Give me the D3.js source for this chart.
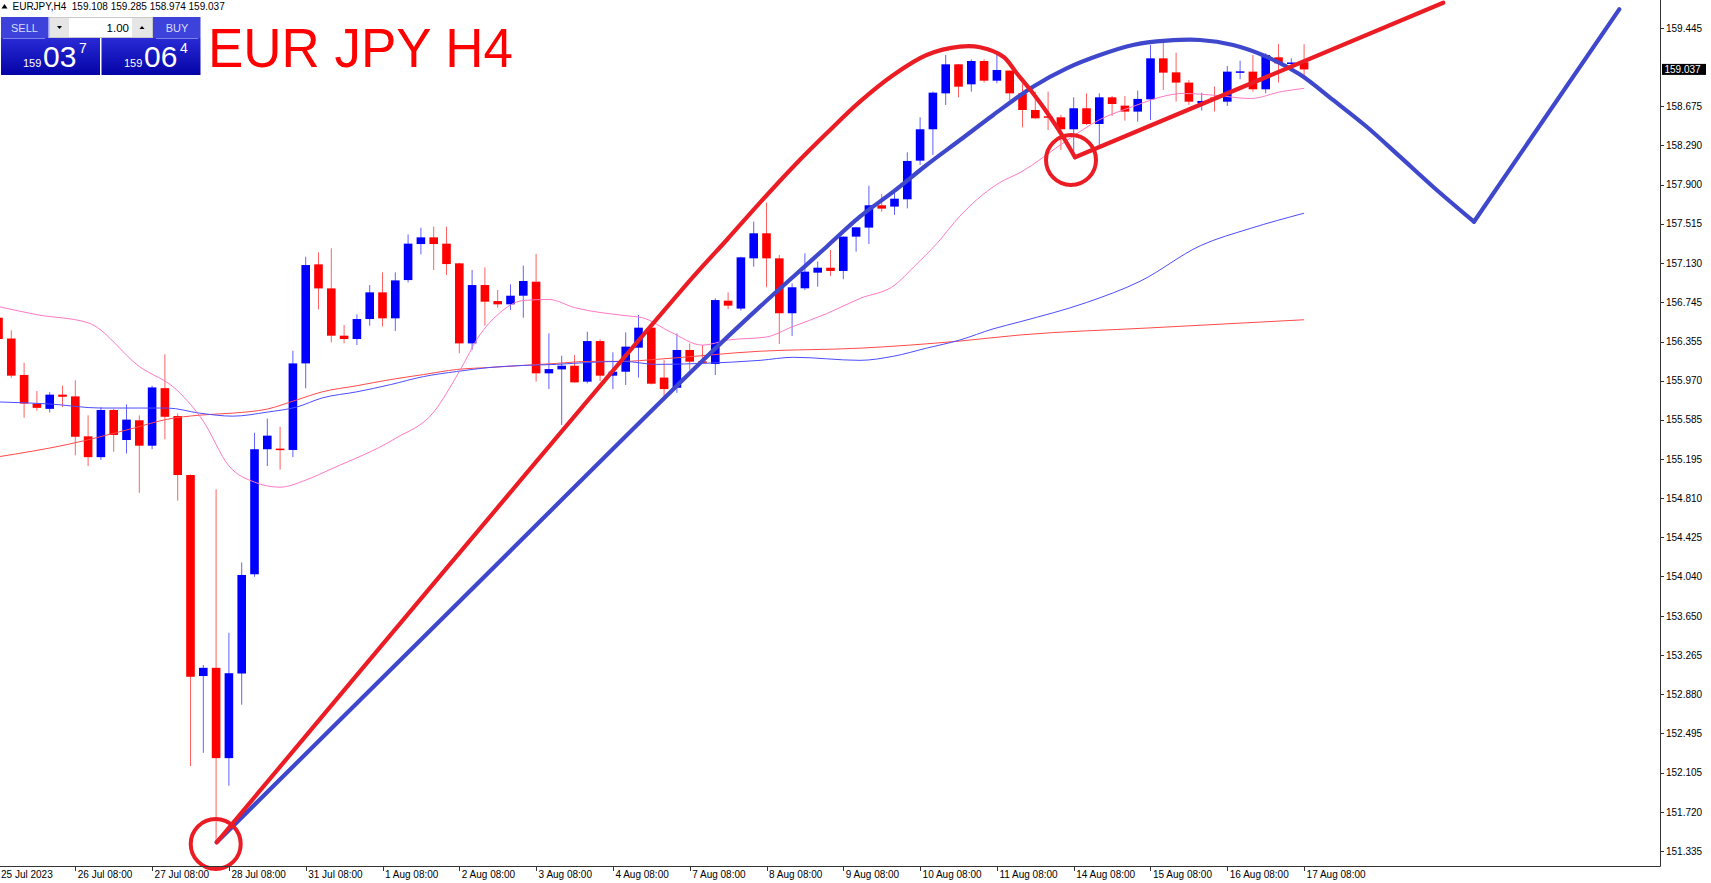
<!DOCTYPE html>
<html><head><meta charset="utf-8">
<script src="https://cdn.jsdelivr.net/npm/d3@7"></script>
<style>html,body{margin:0;padding:0;background:#fff;overflow:hidden}svg{display:block}</style>
</head><body>
<svg id="chart" width="1711" height="883"></svg>
<script>
// ---------- DATA (EURJPY H4, bars 25 Jul 2023 08:00 .. 17 Aug 2023 08:00) ----------
const openP = [156.590,156.385,156.026,155.744,155.692,155.832,155.815,155.421,155.216,155.681,
155.385,155.579,155.329,155.896,155.621,155.040,153.059,153.140,152.250,153.084,
154.062,155.294,155.300,155.287,156.140,157.116,156.879,156.413,156.380,156.577,
156.840,156.584,156.961,157.316,157.382,157.320,157.126,156.337,156.912,156.754,
156.722,156.807,156.945,156.042,156.081,156.117,155.960,156.360,156.019,156.058,
156.295,156.492,156.000,155.900,156.272,156.160,156.134,156.758,156.680,157.175,
157.422,157.175,156.634,156.880,157.034,157.083,157.051,157.389,157.478,157.698,
157.685,157.757,158.138,158.447,158.801,159.087,158.890,159.120,158.926,159.025,
158.801,158.637,158.575,158.565,158.447,158.654,158.499,158.762,158.680,158.621,
158.742,159.146,159.008,158.907,158.703,158.760,158.719,159.010,159.015,158.841,
159.156,159.100,159.108];
const highP = [156.620,156.466,156.146,155.868,155.857,155.920,155.973,155.628,155.709,155.692,
155.737,155.628,155.920,156.230,155.646,155.045,153.168,154.900,153.485,154.178,
155.456,155.597,155.516,156.265,157.191,157.234,157.274,156.518,156.623,156.912,
157.037,157.037,157.411,157.477,157.487,157.487,157.130,157.060,157.086,156.863,
156.919,157.103,157.218,156.436,156.216,156.222,156.452,156.377,156.249,156.446,
156.617,156.500,156.173,156.436,156.337,156.321,156.781,156.840,157.190,157.537,
157.724,157.208,156.929,157.225,157.143,157.258,157.390,157.485,157.891,157.809,
157.832,158.220,158.565,158.818,159.179,159.090,159.136,159.136,159.202,159.030,
158.900,158.818,158.818,158.588,158.762,158.801,158.801,158.775,158.775,158.828,
159.278,159.311,159.202,158.933,158.808,158.867,159.071,159.123,159.179,159.196,
159.288,159.146,159.285];
const lowP = [156.360,155.998,155.604,155.674,155.656,155.709,155.234,155.128,155.188,155.269,
155.252,154.865,155.294,155.392,154.787,152.172,152.302,151.416,151.978,152.777,
154.037,155.128,155.093,155.216,155.894,156.672,156.347,156.337,156.321,156.511,
156.502,156.459,156.938,157.214,157.060,157.011,156.239,156.272,156.511,156.689,
156.666,156.590,155.960,155.887,155.533,155.950,155.943,155.966,155.887,155.927,
156.000,155.933,155.812,155.850,156.075,156.134,156.026,156.673,156.660,157.093,
156.890,156.331,156.410,156.863,156.896,157.001,156.969,157.241,157.317,157.635,
157.603,157.668,158.095,158.194,158.686,158.762,158.818,158.907,158.900,158.736,
158.466,158.550,158.440,158.243,158.194,158.489,158.292,158.578,158.532,158.522,
158.539,158.834,158.719,158.687,158.631,158.621,158.677,158.939,158.818,158.801,
158.907,159.064,158.974];
const closeP = [156.380,156.019,155.744,155.702,155.832,155.811,155.417,155.216,155.681,155.435,
155.586,155.329,155.903,155.614,155.040,153.052,153.140,152.250,153.087,154.055,
155.294,155.428,155.290,156.140,157.109,156.879,156.413,156.380,156.577,156.840,
156.584,156.958,157.320,157.382,157.316,157.119,156.337,156.912,156.748,156.722,
156.807,156.952,156.042,156.084,156.117,155.953,156.360,156.019,156.058,156.305,
156.492,155.940,155.887,156.272,156.157,156.150,156.764,156.709,157.185,157.422,
157.175,156.634,156.890,157.044,157.083,157.051,157.389,157.481,157.698,157.665,
157.763,158.135,158.447,158.808,159.087,158.867,159.120,158.926,159.031,158.801,
158.637,158.555,158.565,158.447,158.654,158.499,158.762,158.696,158.621,158.746,
159.146,159.005,158.907,158.719,158.726,158.750,159.015,159.018,158.841,159.179,
159.097,159.105,159.037];

const xLabels   = ["25 Jul 2023","26 Jul 08:00","27 Jul 08:00","28 Jul 08:00","31 Jul 08:00","1 Aug 08:00",
                   "2 Aug 08:00","3 Aug 08:00","4 Aug 08:00","7 Aug 08:00","8 Aug 08:00","9 Aug 08:00",
                   "10 Aug 08:00","11 Aug 08:00","14 Aug 08:00","15 Aug 08:00","16 Aug 08:00","17 Aug 08:00"];
const xLabelBar = [0,6,12,18,24,30,36,42,48,54,60,66,72,78,84,90,96,102];
const yTicks = [159.445,158.675,158.290,157.900,157.515,157.130,156.745,156.355,155.970,155.585,
                155.195,154.810,154.425,154.040,153.650,153.265,152.880,152.495,152.105,151.720,151.335];

// moving averages read at sample bars: [bar, price]
const maPink = [[0,156.70],[3,156.62],[7,156.54],[11,156.11],[14,155.87],[16,155.57],[18,155.13],[20,154.97],
  [22,154.92],[24,154.99],[26,155.10],[31,155.40],[34,155.66],[36,156.06],[37.6,156.42],[39,156.62],[41,156.76],
  [43,156.77],[45,156.69],[49,156.61],[50.3,156.59],[52.5,156.45],[55,156.32],[57,156.37],[60,156.40],[62,156.50],
  [64.7,156.63],[67.3,156.78],[70,156.91],[71.5,157.09],[73.3,157.32],[75.1,157.59],[76.4,157.75],[78.2,157.92],
  [79.8,158.02],[83.5,158.34],[86,158.54],[88.6,158.67],[91.3,158.78],[92.5,158.80],[95.2,158.78],[97.8,158.75],
  [100.3,158.82],[102,158.85]];
const maBlue = [[0,155.76],[4,155.74],[8,155.70],[13.2,155.70],[15.7,155.65],[18.3,155.62],[21,155.66],[23.3,155.71],
  [25.3,155.80],[28,155.86],[30.6,155.93],[33.2,156.01],[35.8,156.06],[38.4,156.10],[41,156.12],[43.6,156.13],
  [46.2,156.15],[48.8,156.16],[51.4,156.13],[55,156.14],[59.5,156.17],[62.1,156.20],[67.3,156.17],[69.9,156.21],
  [72.5,156.29],[75.1,156.37],[77.7,156.48],[79.8,156.55],[85,156.74],[89.2,156.95],[93.9,157.30],[97.8,157.47],
  [102,157.62]];
const maRed = [[0,155.22],[5.35,155.34],[10.5,155.50],[13.2,155.59],[15.7,155.63],[18.3,155.65],[21,155.69],
  [23.3,155.78],[25.3,155.86],[28,155.92],[30.6,155.98],[33.2,156.03],[35.8,156.08],[38.4,156.10],[41,156.12],
  [43.6,156.14],[46.2,156.16],[48.8,156.16],[51.4,156.18],[59.5,156.26],[67.3,156.29],[75.1,156.36],[79.8,156.42],
  [90,156.49],[102,156.57]];

// hand-drawn annotations: [bar, price]
const arcRed  = [[17.05,151.421],[35.27,154.161],[54.28,156.994],[56.89,157.356],[59.49,157.724],[62.09,158.078],
  [64.70,158.407],[67.30,158.719],[69.91,158.982],[72.51,159.179],[75.12,159.261],[76.68,159.255],[78.50,159.162],
  [79.55,158.999],[80.82,158.802],[82.15,158.571],[83.16,158.374],[84.10,158.171]];
const lineRed = [[84.10,158.171],[112.87,159.694]];
const arcBlue = [[17.05,151.421],[36.05,153.799],[55.06,156.173],[59.49,156.699],[62.09,156.994],[64.70,157.290],
  [67.30,157.586],[69.91,157.832],[72.51,158.095],[75.12,158.341],[77.72,158.588],[80.82,158.867],[83.45,159.048],
  [86.05,159.179],[88.63,159.278],[91.27,159.320],[93.87,159.327],[96.45,159.278],[99.08,159.162],[101.68,158.987],
  [104.26,158.736],[106.89,158.472],[109.49,158.177],[112.07,157.881],[115.27,157.536]];
const lineBlue = [[115.27,157.536],[126.62,159.629]];
const circles = [[16.97,151.404],[83.79,158.144]];

const quoteHeader = "EURJPY,H4  159.108 159.285 158.974 159.037";
const lastPrice = 159.037;

// ---------- DRAW ----------
const svg = d3.select("#chart");
const FONT = "'Liberation Sans', Arial, sans-serif";
const plotRight = 1660, plotBottom = 866;
const x = d3.scaleLinear().domain([0, 102]).range([-1.5, 1304.1]);
const y = d3.scaleLinear().domain([151.335, 159.445]).range([851, 28]);

svg.append("defs").append("clipPath").attr("id","plotclip")
  .append("rect").attr("x",0).attr("y",0).attr("width",plotRight).attr("height",plotBottom);
const plot = svg.append("g").attr("clip-path","url(#plotclip)");

const bars = d3.range(openP.length).map(i => ({i, o:openP[i], h:highP[i], l:lowP[i], c:closeP[i]}));
const up = d => d.c >= d.o;
const BW = 8.6;

plot.append("g").selectAll("line").data(bars).join("line")
  .attr("x1", d => x(d.i)).attr("x2", d => x(d.i))
  .attr("y1", d => y(d.h)).attr("y2", d => y(d.l))
  .attr("stroke", d => up(d) ? "#6262ff" : "#ff6262").attr("stroke-width", 1);

plot.append("g").selectAll("rect").data(bars).join("rect")
  .attr("x", d => x(d.i) - BW/2).attr("width", BW)
  .attr("y", d => y(Math.max(d.o, d.c)))
  .attr("height", d => Math.max(1.5, Math.abs(y(d.o) - y(d.c))))
  .attr("fill", d => up(d) ? "#0000ff" : "#ff0000");

const maLine = d3.line().x(d => x(d[0])).y(d => y(d[1])).curve(d3.curveMonotoneX);
plot.append("path").attr("d", maLine(maRed)).attr("fill","none").attr("stroke","#ff4a4a").attr("stroke-width",1);
plot.append("path").attr("d", maLine(maBlue)).attr("fill","none").attr("stroke","#4d4dff").attr("stroke-width",1);
plot.append("path").attr("d", maLine(maPink)).attr("fill","none").attr("stroke","#ff78c4").attr("stroke-width",1);

// annotations
const curveLine = d3.line().x(d => x(d[0])).y(d => y(d[1])).curve(d3.curveCatmullRom.alpha(0.5));
const straight = d3.line().x(d => x(d[0])).y(d => y(d[1]));
const RED = "#ec1c24", BLUE = "#3f48cc";
svg.append("path").attr("d", curveLine(arcBlue)).attr("fill","none").attr("stroke",BLUE).attr("stroke-width",4.2).attr("stroke-linecap","round");
svg.append("path").attr("d", straight(lineBlue)).attr("fill","none").attr("stroke",BLUE).attr("stroke-width",4.2).attr("stroke-linecap","round");
svg.append("path").attr("d", curveLine(arcRed)).attr("fill","none").attr("stroke",RED).attr("stroke-width",4.2).attr("stroke-linecap","round");
svg.append("path").attr("d", straight(lineRed)).attr("fill","none").attr("stroke",RED).attr("stroke-width",4.2).attr("stroke-linecap","round");
svg.append("g").selectAll("circle").data(circles).join("circle")
  .attr("cx", d => x(d[0])).attr("cy", d => y(d[1])).attr("r", 25)
  .attr("fill","none").attr("stroke",RED).attr("stroke-width",4);

// axes frame
svg.append("line").attr("x1",plotRight+0.5).attr("x2",plotRight+0.5).attr("y1",0).attr("y2",plotBottom+0.5)
  .attr("stroke","#333").attr("stroke-width",1);
svg.append("line").attr("x1",0).attr("x2",plotRight+0.5).attr("y1",plotBottom+0.5).attr("y2",plotBottom+0.5)
  .attr("stroke","#333").attr("stroke-width",1);

// y axis labels
const ya = svg.append("g");
ya.selectAll("line").data(yTicks).join("line")
  .attr("x1", plotRight+1).attr("x2", plotRight+4)
  .attr("y1", d => Math.round(y(d))+0.5).attr("y2", d => Math.round(y(d))+0.5)
  .attr("stroke","#333");
ya.selectAll("text").data(yTicks).join("text")
  .attr("x", 1666).attr("y", d => y(d) + 3.6)
  .attr("font-family", FONT).attr("font-size", 10).attr("fill","#000")
  .text(d => d.toFixed(3));

// current price tag
svg.append("rect").attr("x",1662).attr("y", y(lastPrice)-5.5).attr("width",44).attr("height",11).attr("fill","#000");
svg.append("text").attr("x",1664.5).attr("y", y(lastPrice)+3.6).attr("font-family",FONT).attr("font-size",10)
  .attr("fill","#fff").text(lastPrice.toFixed(3));

// x axis labels
const xa = svg.append("g");
xa.selectAll("line").data(xLabelBar).join("line")
  .attr("x1", d => Math.round(x(d))+0.5).attr("x2", d => Math.round(x(d))+0.5)
  .attr("y1", plotBottom+1).attr("y2", plotBottom+5).attr("stroke","#333");
xa.selectAll("text").data(xLabels).join("text")
  .attr("x", (d,k) => Math.max(0, x(xLabelBar[k]) + 2.5)).attr("y", 878)
  .attr("font-family", FONT).attr("font-size", 10).attr("fill","#000")
  .text(d => d);

// header line
svg.append("path").attr("d","M1.5,8.5 L4.5,4 L7.5,8.5 Z").attr("fill","#000");
svg.append("text").attr("x",12.5).attr("y",10).attr("font-family",FONT).attr("font-size",10).attr("fill","#000")
  .attr("xml:space","preserve").style("white-space","pre").text(quoteHeader);

// one-click trading panel
const defs = svg.select("defs");
const g1 = defs.append("linearGradient").attr("id","pg").attr("x1",0).attr("x2",0).attr("y1",0).attr("y2",1);
g1.append("stop").attr("offset","0%").attr("stop-color","#2a2ad6");
g1.append("stop").attr("offset","100%").attr("stop-color","#0303a6");
const panel = svg.append("g");
panel.append("rect").attr("x",1).attr("y",17).attr("width",47.5).attr("height",21).attr("fill","#3d42da");
panel.append("rect").attr("x",153).attr("y",17).attr("width",47.5).attr("height",21).attr("fill","#3d42da");
panel.append("rect").attr("x",1).attr("y",38).attr("width",99).attr("height",37).attr("fill","url(#pg)");
panel.append("rect").attr("x",101.5).attr("y",38).attr("width",99).attr("height",37).attr("fill","url(#pg)");
panel.append("line").attr("x1",3).attr("x2",45).attr("y1",38.5).attr("y2",38.5).attr("stroke","#7b80ea");
panel.append("line").attr("x1",156).attr("x2",198).attr("y1",38.5).attr("y2",38.5).attr("stroke","#7b80ea");
panel.append("rect").attr("x",49.5).attr("y",17.5).attr("width",103).attr("height",20).attr("fill","#fff").attr("stroke","#c8c8c8");
panel.append("rect").attr("x",50).attr("y",18).attr("width",19).attr("height",19).attr("fill","#e6e6e6");
panel.append("rect").attr("x",132).attr("y",18).attr("width",20).attr("height",19).attr("fill","#e6e6e6");
panel.append("path").attr("d","M57,26 L62,26 L59.5,29 Z").attr("fill","#000");
panel.append("path").attr("d","M139.5,29 L144.5,29 L142,26 Z").attr("fill","#000");
panel.append("text").attr("x",129).attr("y",31.5).attr("text-anchor","end").attr("font-family",FONT).attr("font-size",11.5).attr("fill","#000").text("1.00");
panel.append("text").attr("x",24.5).attr("y",31.5).attr("text-anchor","middle").attr("font-family",FONT).attr("font-size",11).attr("fill","#d8dcff").text("SELL");
panel.append("text").attr("x",177).attr("y",31.5).attr("text-anchor","middle").attr("font-family",FONT).attr("font-size",11).attr("fill","#d8dcff").text("BUY");
function quote(x0, small, big, sup) {
  panel.append("text").attr("x",x0).attr("y",67).attr("font-family",FONT).attr("font-size",11).attr("fill","#fff").text(small);
  panel.append("text").attr("x",x0+20).attr("y",67).attr("font-family",FONT).attr("font-size",30).attr("fill","#fff").text(big);
  panel.append("text").attr("x",x0+56).attr("y",53).attr("font-family",FONT).attr("font-size",14).attr("fill","#fff").text(sup);
}
quote(23, "159", "03", "7");
quote(124, "159", "06", "4");

// big title
svg.append("text").attr("x",208).attr("y",67).attr("font-family",FONT).attr("font-size",56)
  .attr("textLength",305).attr("lengthAdjust","spacingAndGlyphs").attr("fill","#ff0000").text("EUR JPY H4");
</script>
</body></html>
